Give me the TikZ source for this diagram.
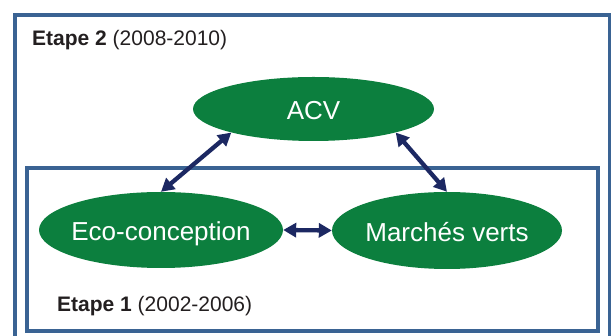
\documentclass[tikz,border=0pt]{standalone}
\usepackage{fontspec}
\setmainfont{Liberation Sans}
\usetikzlibrary{arrows.meta,shapes.geometric}
\definecolor{framec}{HTML}{3A6393}
\definecolor{ellc}{HTML}{0C7F3E}
\definecolor{arrc}{HTML}{1C2862}
\definecolor{txtc}{HTML}{231F20}
\newcommand{\blobtext}[1]{\makebox[0pt][c]{\raisebox{-1.5pt}{#1}}}
\begin{document}
\begin{tikzpicture}[x=1pt,y=-1pt,
  frame/.style={draw=framec,line width=4pt},
  blob/.style={ellipse,fill=ellc,text=white,inner sep=0pt,text height=18.6pt,text depth=0pt,font=\fontsize{26}{30}\selectfont},
  link/.style={draw=arrc,line width=4.3pt,{Triangle[length=13pt,width=14pt]}-{Triangle[length=13pt,width=14pt]}},
  lbl/.style={anchor=base west,inner sep=0pt,text=txtc,font=\fontsize{21}{25}\selectfont}]
\clip (0,0) rectangle (611,336);
\draw[frame] (15,15) rectangle (609.5,350);
\draw[frame] (26.5,168) rectangle (598,331.5);
\node[blob,minimum width=241pt,minimum height=64pt] (acv) at (313.5,109) {\blobtext{ACV}};
\node[blob,minimum width=244pt,minimum height=76pt] (eco) at (161,230) {\blobtext{Eco-conception}};
\node[blob,minimum width=230pt,minimum height=77pt] (mv) at (447,230.5) {\blobtext{Marchés verts}};
\draw[link] (acv.196) -- (eco.north);
\draw[link] (acv.344) -- (mv.north);
\draw[link] (eco.east) -- (mv.west);
\node[lbl] (e2) at (32,45.3) {\textbf{Etape 2} (2008-2010)};
\node[lbl] (e1) at (57,312) {\textbf{Etape 1} (2002-2006)};
\end{tikzpicture}
\end{document}
